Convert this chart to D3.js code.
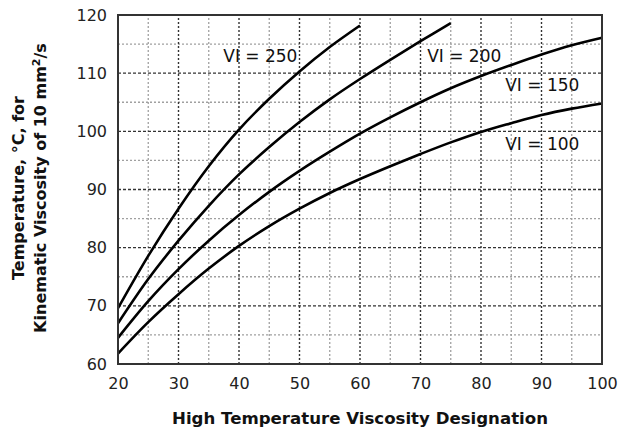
<!DOCTYPE html>
<html>
<head>
<meta charset="utf-8">
<script src="https://cdn.jsdelivr.net/npm/d3@7"></script>
<style>
  body { margin: 0; background: #fff; }
  svg { display: block; font-family: "DejaVu Sans", Verdana, sans-serif; }
</style>
</head>
<body>
<div id="chart"></div>
<script>
const designation = [20, 25, 30, 35, 40, 45, 50, 55, 60, 65, 70, 75, 80, 85, 90, 95, 100];

const vi250 = [69.6, 78.6, 86.7, 94.0, 100.3, 105.6, 110.3, 114.5, 118.2];
const vi200 = [67.0, 74.6, 81.2, 87.2, 92.6, 97.3, 101.6, 105.5, 109.0, 112.3, 115.5, 118.6];
const vi150 = [64.5, 70.8, 76.3, 81.2, 85.6, 89.6, 93.2, 96.5, 99.6, 102.4, 105.0, 107.4, 109.5, 111.4, 113.2, 114.8, 116.1];
const vi100 = [61.8, 67.2, 72.0, 76.4, 80.3, 83.7, 86.7, 89.4, 91.8, 94.0, 96.1, 98.1, 99.9, 101.4, 102.8, 103.9, 104.8];

const xTicks = [20, 30, 40, 50, 60, 70, 80, 90, 100];
const yTicks = [60, 70, 80, 90, 100, 110, 120];

// label anchors, in data units
const curveLabels = [
  { text: 'VI = 250', x: 37.4, y: 111.9 },
  { text: 'VI = 200', x: 71.1, y: 111.9 },
  { text: 'VI = 150', x: 84.0, y: 106.9 },
  { text: 'VI = 100', x: 84.0, y: 96.8 }
];

const width = 618;
const height = 432;
const margin = { top: 15, right: 16, bottom: 68, left: 118 };

const svg = d3.select('#chart')
  .append('svg')
  .attr('width', width)
  .attr('height', height);

const x = d3.scaleLinear()
  .domain([20, 100])
  .range([margin.left, width - margin.right]);

const y = d3.scaleLinear()
  .domain([60, 120])
  .range([height - margin.bottom, margin.top]);

// grid: minor lines every 5, major every 10
const minorX = d3.range(25, 100, 10);
const minorY = d3.range(65, 120, 10);

svg.append('g')
  .selectAll('line')
  .data(minorX)
  .join('line')
  .attr('x1', d => x(d)).attr('x2', d => x(d))
  .attr('y1', y(60)).attr('y2', y(120))
  .attr('stroke', '#a0a0a0')
  .attr('stroke-width', 1.3)
  .attr('stroke-dasharray', '2,2');

svg.append('g')
  .selectAll('line')
  .data(minorY)
  .join('line')
  .attr('x1', x(20)).attr('x2', x(100))
  .attr('y1', d => y(d)).attr('y2', d => y(d))
  .attr('stroke', '#a0a0a0')
  .attr('stroke-width', 1.3)
  .attr('stroke-dasharray', '2,2');

svg.append('g')
  .selectAll('line')
  .data(xTicks.slice(1, -1))
  .join('line')
  .attr('x1', d => x(d)).attr('x2', d => x(d))
  .attr('y1', y(60)).attr('y2', y(120))
  .attr('stroke', '#333')
  .attr('stroke-width', 1.4)
  .attr('stroke-dasharray', '2,2');

svg.append('g')
  .selectAll('line')
  .data(yTicks.slice(1, -1))
  .join('line')
  .attr('x1', x(20)).attr('x2', x(100))
  .attr('y1', d => y(d)).attr('y2', d => y(d))
  .attr('stroke', '#333')
  .attr('stroke-width', 1.4)
  .attr('stroke-dasharray', '3,2');

// curves
const series = [vi250, vi200, vi150, vi100];

const line = d3.line()
  .x((d, i) => x(designation[i]))
  .y(d => y(d))
  .curve(d3.curveCatmullRom.alpha(0.5));

svg.append('g')
  .selectAll('path')
  .data(series)
  .join('path')
  .attr('d', line)
  .attr('fill', 'none')
  .attr('stroke', '#000')
  .attr('stroke-width', 2.6);

// curve labels
svg.append('g')
  .selectAll('text')
  .data(curveLabels)
  .join('text')
  .attr('x', d => x(d.x))
  .attr('y', d => y(d.y))
  .style('font-size', '17px')
  .style('fill', '#111')
  .text(d => d.text);

// frame
svg.append('rect')
  .attr('x', x(20))
  .attr('y', y(120))
  .attr('width', x(100) - x(20))
  .attr('height', y(60) - y(120))
  .attr('fill', 'none')
  .attr('stroke', '#333')
  .attr('stroke-width', 2);

// axes
const xAxis = svg.append('g')
  .attr('transform', `translate(0, ${height - margin.bottom})`)
  .call(d3.axisBottom(x).tickValues(xTicks).tickSize(0).tickPadding(14));

const yAxis = svg.append('g')
  .attr('transform', `translate(${margin.left}, 0)`)
  .call(d3.axisLeft(y).tickValues(yTicks).tickSize(0).tickPadding(11));

[xAxis, yAxis].forEach(g => {
  g.select('.domain').remove();
  g.selectAll('text')
    .style('font-family', '"DejaVu Sans", Verdana, sans-serif')
    .style('font-size', '16px')
    .style('fill', '#222');
});

// axis titles
svg.append('text')
  .attr('x', (x(20) + x(100)) / 2)
  .attr('y', 424)
  .attr('text-anchor', 'middle')
  .style('font-size', '16.6px')
  .style('font-weight', 'bold')
  .style('fill', '#111')
  .text('High Temperature Viscosity Designation');

const yTitle = svg.append('text')
  .attr('transform', `translate(0, 188) rotate(-90)`)
  .attr('text-anchor', 'middle')
  .style('font-size', '16px')
  .style('font-weight', 'bold')
  .style('fill', '#111');

yTitle.append('tspan')
  .attr('x', 0)
  .attr('y', 24)
  .text('Temperature, °C, for');

const line2 = yTitle.append('tspan')
  .attr('x', 0)
  .attr('y', 46)
  .text('Kinematic Viscosity of 10 mm');
line2.append('tspan')
  .attr('dy', -6)
  .style('font-size', '11px')
  .text('2');
line2.append('tspan')
  .attr('dy', 6)
  .text('/s');
</script>
</body>
</html>
